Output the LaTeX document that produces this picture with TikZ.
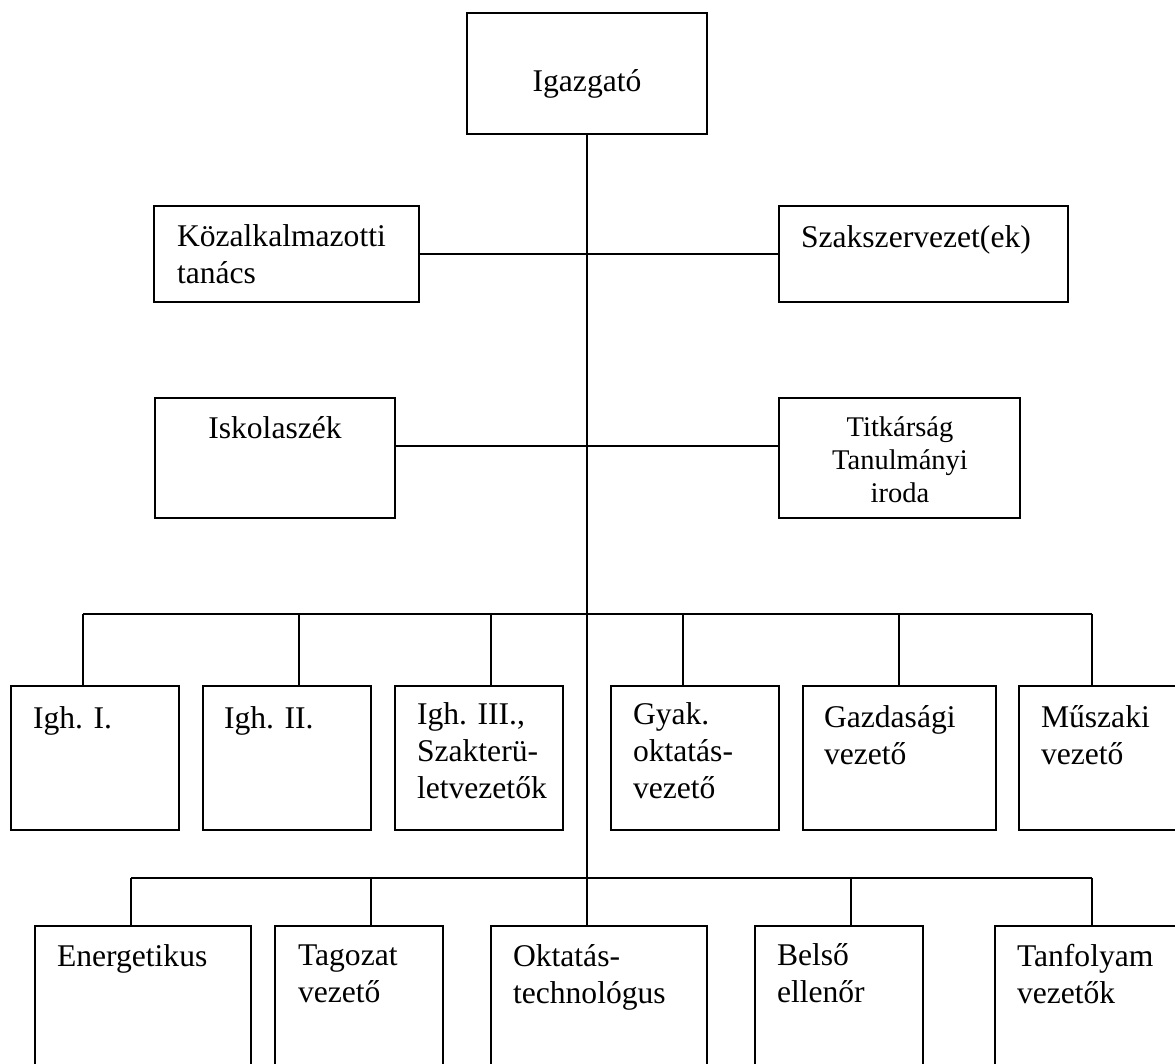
\documentclass[tikz,border=0pt]{standalone}
\usepackage{fontspec}
\setmainfont{Liberation Serif}
\begin{document}
\begin{tikzpicture}[x=1pt,y=-1pt,line width=2pt,
  bx/.style 2 args={draw,inner sep=0pt,outer sep=0pt,anchor=north west,minimum width=#1pt,minimum height=#2pt},
  tx/.style={anchor=base west,inner sep=0pt,align=left,font=\fontsize{31.6}{37}\selectfont},
  txc/.style={anchor=base,inner sep=0pt,align=center,font=\fontsize{31.6}{37}\selectfont},
  txs/.style={anchor=base,inner sep=0pt,align=center,font=\fontsize{28.5}{33}\selectfont}]
\useasboundingbox[fill=white] (0,0) rectangle (1175,1063);
% boxes
\node[bx={240}{121}] (igaz) at (467,13) {};
\node[bx={265}{96}] (kozalk) at (154,206) {};
\node[bx={289}{96}] (szak) at (779,206) {};
\node[bx={240}{120}] (isk) at (155,398) {};
\node[bx={241}{120}] (titk) at (779,398) {};
\node[bx={168}{144}] (igh1) at (11,686) {};
\node[bx={168}{144}] (igh2) at (203,686) {};
\node[bx={168}{144}] (igh3) at (395,686) {};
\node[bx={168}{144}] (gyak) at (611,686) {};
\node[bx={193}{144}] (gazd) at (803,686) {};
\node[bx={170}{144}] (musz) at (1019,686) {};
\node[bx={216}{200}] (energ) at (35,926) {};
\node[bx={168}{200}] (tag) at (275,926) {};
\node[bx={216}{200}] (okt) at (491,926) {};
\node[bx={168}{200}] (belso) at (755,926) {};
\node[bx={200}{200}] (tanf) at (995,926) {};
% texts (base anchor of a multi-line node is its last line)
\node[txc] (t-igaz) at (587,91) {Igazgató};
\node[tx] (t-kozalk) at (176,283) {Közalkalmazotti\\tanács};
\node[tx] (t-szak) at (800,247) {Szakszervezet(ek)};
\node[txc] (t-isk) at (275,438) {Iskolaszék};
\node[txs] (t-titk) at (900,502) {Titkárság\\Tanulmányi\\iroda};
\node[tx] (t-igh1) at (32,728) {Igh. I.};
\node[tx] (t-igh2) at (223,728) {Igh. II.};
\node[tx] (t-igh3) at (416,798) {Igh. III.,\\Szakterü-\\letvezetők};
\node[tx] (t-gyak) at (632,798) {Gyak.\\oktatás-\\vezető};
\node[tx] (t-gazd) at (823,764) {Gazdasági\\vezető};
\node[tx] (t-musz) at (1040,764) {Műszaki\\vezető};
\node[tx] (t-energ) at (56,966) {Energetikus};
\node[tx] (t-tag) at (297,1002) {Tagozat\\vezető};
\node[tx] (t-okt) at (512,1003) {Oktatás-\\technológus};
\node[tx] (t-belso) at (776,1002) {Belső\\ellenőr};
\node[tx] (t-tanf) at (1016,1003) {Tanfolyam\\vezetők};
% connectors
\draw (igaz.south) -- (igaz.south |- okt.north);
\draw (kozalk.east) -- (szak.west);
\draw ([yshift=12pt]isk.east) -- ([yshift=12pt]titk.west);
\coordinate (a1) at (83,614);
\coordinate (a2) at (299,614);
\coordinate (a3) at (491,614);
\coordinate (a4) at (683,614);
\coordinate (a5) at (899,614);
\coordinate (a6) at (1092,614);
\draw (a1) -- (a6);
\draw (a1) -- (a1 |- igh1.north);
\draw (a2) -- (a2 |- igh2.north);
\draw (a3) -- (a3 |- igh3.north);
\draw (a4) -- (a4 |- gyak.north);
\draw (a5) -- (a5 |- gazd.north);
\draw (a6) -- (a6 |- musz.north);
\coordinate (b1) at (131,878);
\coordinate (b2) at (371,878);
\coordinate (b4) at (851,878);
\coordinate (b5) at (1092,878);
\draw (b1) -- (b5);
\draw (b1) -- (b1 |- energ.north);
\draw (b2) -- (b2 |- tag.north);
\draw (b4) -- (b4 |- belso.north);
\draw (b5) -- (b5 |- tanf.north);
\end{tikzpicture}
\end{document}
